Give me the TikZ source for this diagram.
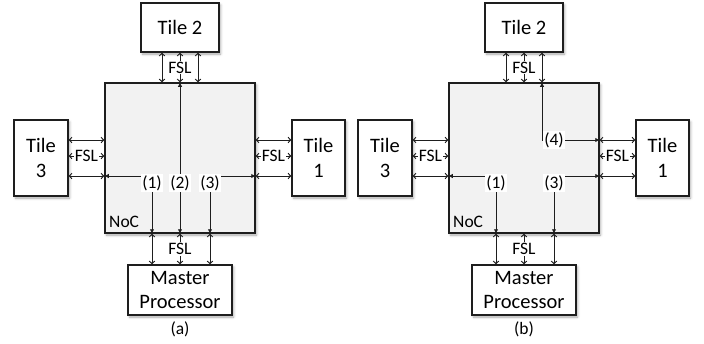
\documentclass[tikz,border=0pt]{standalone}
\usepackage{fontspec}
\setmainfont{Carlito}
\usetikzlibrary{arrows.meta,shadows.blur,calc}
\definecolor{nocfill}{HTML}{F2F2F2}
\definecolor{ink}{HTML}{1E1E1E}
\begin{document}
\begin{tikzpicture}[x=1pt,y=-1pt,
  box/.style={draw=ink, line width=1.5pt, fill=white, text=black, align=center, inner sep=0pt,
    font=\fontsize{20.5}{24.5}\selectfont,
    blur shadow={shadow xshift=1.5pt, shadow yshift=-2pt, shadow blur radius=2.5pt, shadow opacity=35}},
  fsl/.style={draw=ink, line width=1pt, {Straight Barb[length=2.5pt,width=5.5pt]}-{Straight Barb[length=2.5pt,width=5.5pt]}},
  route/.style={draw=ink, line width=1pt, {Latex[length=4.5pt,width=4.5pt]}-{Latex[length=4.5pt,width=4.5pt]}},
  lbl/.style={fill=white, inner sep=1pt, text=black, font=\fontsize{17.5}{19}\selectfont},
  captext/.style={text=black, inner sep=0pt, font=\fontsize{17.5}{20}\selectfont},
]
\useasboundingbox (0,0) rectangle (704,343);
\foreach \s/\o in {a/0,b/344}{
 \begin{scope}[xshift=\o pt]
  % boxes
  \node[box, fill=nocfill, minimum width=150pt, minimum height=150pt] (N\s) at (180,158) {};
  \node[box, minimum width=78pt, minimum height=49pt] (T2\s) at (180,27.5) {Tile 2};
  \node[box, minimum width=54pt, minimum height=76pt] (T3\s) at (41,158) {Tile\\3};
  \node[box, minimum width=53pt, minimum height=76pt] (T1\s) at (318.5,158) {Tile\\1};
  \node[box, minimum width=104pt, minimum height=50pt] (M\s) at (180,290) {Master\\Processor};
  \node[captext, anchor=base west] (noc\s) at (109,227) {NoC};
  \node[captext] (cap\s) at (180,329) {(\s)};
  % top FSL
  \coordinate (U1\s) at (162,67.5);
  \coordinate (U2\s) at (180,67.5);
  \coordinate (U3\s) at (198,67.5);
  \draw[fsl] (U1\s |- T2\s.south) -- (U1\s |- N\s.north);
  \draw[fsl] (U2\s |- T2\s.south) -- (U2\s |- N\s.north);
  \draw[fsl] (U3\s |- T2\s.south) -- (U3\s |- N\s.north);
  \node[lbl] (fu\s) at (U2\s) {FSL};
  % left FSL
  \coordinate (L1\s) at (86.5,140);
  \coordinate (L2\s) at (86.5,156);
  \coordinate (L3\s) at (86.5,176);
  \draw[fsl] (L1\s -| T3\s.east) -- (L1\s -| N\s.west);
  \draw[fsl] (L2\s -| T3\s.east) -- (L2\s -| N\s.west);
  \draw[fsl] (L3\s -| T3\s.east) -- (L3\s -| N\s.west);
  \node[lbl] (fl\s) at (L2\s) {FSL};
  % right FSL
  \coordinate (R1\s) at (273.5,140);
  \coordinate (R2\s) at (273.5,156);
  \coordinate (R3\s) at (273.5,176);
  \draw[fsl] (R1\s -| N\s.east) -- (R1\s -| T1\s.west);
  \draw[fsl] (R2\s -| N\s.east) -- (R2\s -| T1\s.west);
  \draw[fsl] (R3\s -| N\s.east) -- (R3\s -| T1\s.west);
  \node[lbl] (fr\s) at (R2\s) {FSL};
  % bottom FSL
  \coordinate (B1\s) at (152,249);
  \coordinate (B2\s) at (180,249);
  \coordinate (B3\s) at (210,249);
  \draw[fsl] (B1\s |- N\s.south) -- (B1\s |- M\s.north);
  \draw[fsl] (B2\s |- N\s.south) -- (B2\s |- M\s.north);
  \draw[fsl] (B3\s |- N\s.south) -- (B3\s |- M\s.north);
  \node[lbl] (fb\s) at (B2\s) {FSL};
  % routes (1) and (3)
  \coordinate (c1\s) at (152,176);
  \coordinate (c3\s) at (210,176);
  \draw[route] (c1\s -| N\s.west) -- (c1\s) -- (c1\s |- N\s.south);
  \draw[route] (c3\s |- N\s.south) -- (c3\s) -- (c3\s -| N\s.east);
  \node[lbl] (l1\s) at (152,183) {(1)};
  \node[lbl] (l3\s) at (210,183) {(3)};
 \end{scope}
}
% route (2) in (a)
\coordinate (c2) at (180,183);
\draw[route] (c2 |- Na.north) -- (c2 |- Na.south);
\node[lbl] (l2) at (c2) {(2)};
% route (4) in (b)
\begin{scope}[xshift=344pt]
  \coordinate (c4) at (198,140);
  \draw[route] (c4 |- Nb.north) -- (c4) -- (c4 -| Nb.east);
  \node[lbl] (l4) at (210,140) {(4)};
\end{scope}
\end{tikzpicture}
\end{document}
